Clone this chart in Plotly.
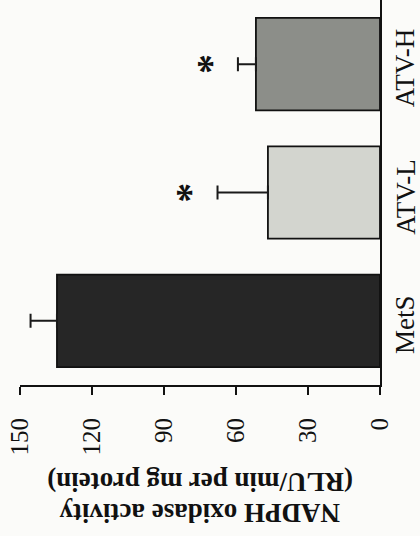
import plotly.graph_objects as go

categories = ["MetS", "ATV-L", "ATV-H"]
means = [134.6, 46.7, 51.7]
errors = [11.0, 21.0, 7.5]
significant = ["", "*", "*"]
bar_colors = ["#262626", "#d3d5cf", "#8c8e89"]
x_ticks = [0, 30, 60, 90, 120, 150]
title_lines = ["NADPH oxidase activity", "(RLU/min per mg protein)"]

SERIF = "Liberation Serif"

fig = go.Figure()
fig.add_trace(go.Bar(
    y=categories, x=means, orientation="h",
    width=0.72,
    marker=dict(color=bar_colors, line=dict(color="#111111", width=1.8)),
    error_x=dict(type="data", symmetric=False, array=errors,
                 arrayminus=[0] * len(errors),
                 color="#1a1a1a", thickness=2, width=7),
    showlegend=False,
))

# significance asterisks placed beyond the error bars
star_x = [m + e + 13 for m, e in zip(means, errors)]
for c, sx, s in zip(categories, star_x, significant):
    if s:
        fig.add_annotation(x=sx, y=c, text="<b>" + s + "</b>", showarrow=False,
                           textangle=-90, xanchor="center", yanchor="middle",
                           xshift=3,
                           font=dict(family=SERIF, size=40, color="#111111"))

# category labels (rotated like the rest of the figure)
for c in categories:
    fig.add_annotation(x=1.07, xref="paper", y=c, yref="y", yshift=-4,
                       text=c, showarrow=False, textangle=-90,
                       xanchor="center", yanchor="middle",
                       font=dict(family=SERIF, size=27, color="#111111"))

# value-axis title, upside down (first line lowest)
for line, ypos in zip(title_lines, [-0.332, -0.252]):
    fig.add_annotation(
        x=0.5, xref="paper", y=ypos, yref="paper",
        text="<b>" + line + "</b>",
        showarrow=False, textangle=180, xanchor="center", yanchor="middle",
        font=dict(family=SERIF, size=27, color="#111111"))

fig.update_layout(
    width=420, height=536,
    margin=dict(l=20, r=40, t=0, b=151),
    paper_bgcolor="#fbfbf9", plot_bgcolor="#fbfbf9",
    bargap=0.28,
)
fig.update_xaxes(
    range=[150, 0], tickvals=x_ticks, ticktext=[str(v) for v in x_ticks],
    tickangle=-90, ticks="outside", ticklen=8, tickwidth=2, tickcolor="#111111",
    showline=True, linecolor="#111111", linewidth=2,
    showgrid=False, zeroline=False, automargin=False,
    tickfont=dict(family=SERIF, size=25, color="#111111"),
    ticklabelstandoff=13,
)
fig.update_yaxes(
    categoryorder="array", categoryarray=categories,
    range=[-0.5, 2.5], side="right", showticklabels=False,
    ticks="", showline=True, linecolor="#111111", linewidth=2,
    showgrid=False, zeroline=False, automargin=False,
)

fig.write_html("out.html", config={"displayModeBar": False},
               post_script="document.body.style.margin='0';document.body.style.overflow='hidden';")
